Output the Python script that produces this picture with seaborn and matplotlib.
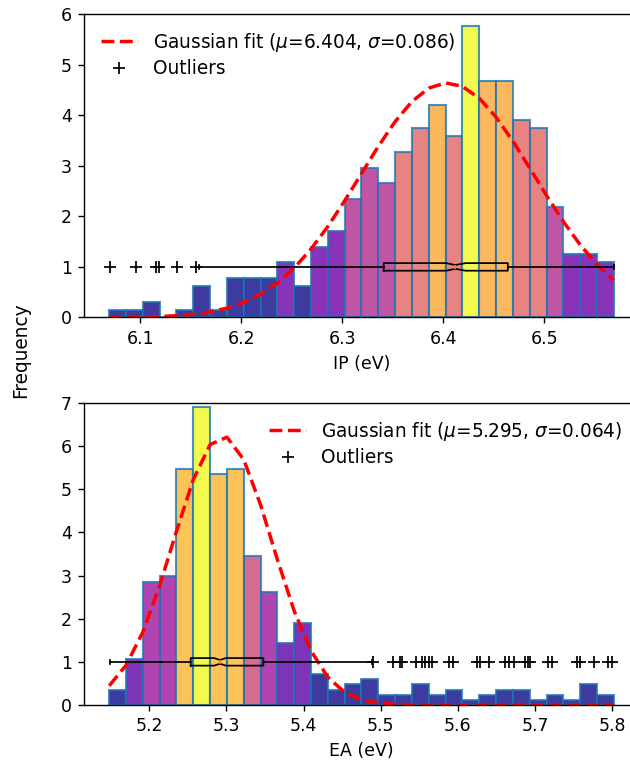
import numpy as np
import pandas as pd
import matplotlib
matplotlib.use('Agg')
import matplotlib.pyplot as plt
from matplotlib.lines import Line2D
import seaborn as sns

# IP histogram: 30 bins between the data min and max
ip_range = (6.069, 6.569)
ip_counts = [1, 1, 2, 0, 1, 4, 1, 5, 5, 5, 7, 4, 9, 11, 15,
             19, 17, 21, 24, 27, 23, 37, 30, 30, 25, 24, 14, 8, 8, 7]
ip_mu, ip_sigma = 6.404, 0.086
ip_box = dict(q1=6.341, med=6.412, q3=6.464, whislo=6.158, whishi=6.569,
              cilo=6.403, cihi=6.422)
ip_fliers = [6.0695, 6.0955, 6.1150, 6.1185, 6.1360, 6.1550]

# EA histogram
ea_range = (5.148, 5.802)
ea_counts = [3, 9, 24, 25, 46, 58, 45, 46, 29, 22, 12, 16, 6, 3, 4,
             5, 2, 2, 4, 2, 3, 1, 2, 3, 3, 1, 2, 1, 4, 2]
ea_mu, ea_sigma = 5.295, 0.064
ea_box = dict(q1=5.2536, med=5.2916, q3=5.3478, whislo=5.1487, whishi=5.4880,
              cilo=5.2841, cihi=5.2991)
ea_fliers = [5.4905, 5.5156, 5.5247, 5.5269, 5.5459, 5.5537, 5.5579, 5.5622,
             5.5666, 5.5881, 5.5933, 5.6249, 5.6292, 5.6399, 5.6615, 5.6658,
             5.6723, 5.6874, 5.6904, 5.6930, 5.7168, 5.7220, 5.7544, 5.7587,
             5.7759, 5.7946, 5.7997]


def draw_panel(ax, rng, counts, mu, sigma, box, fliers, xlabel, box_w, legend_loc):
    nbins = len(counts)
    edges = np.linspace(rng[0], rng[1], nbins + 1)
    df = pd.DataFrame({'x': 0.5 * (edges[:-1] + edges[1:]), 'n': counts})
    sns.histplot(data=df, x='x', weights='n', bins=nbins, binrange=rng,
                 stat='density', ax=ax, alpha=0.8, edgecolor='#1f77b4',
                 linewidth=1.2)
    # colour the bars by the integer part of their height
    heights = np.array([p.get_height() for p in ax.patches])
    levels = np.floor(heights)
    cmap = plt.cm.plasma
    for p, lv in zip(ax.patches, levels):
        p.set_facecolor(cmap(lv / levels.max()))
        p.set_alpha(0.8)

    pdf = np.exp(-0.5 * ((edges - mu) / sigma) ** 2) / (sigma * np.sqrt(2 * np.pi))
    ax.plot(edges, pdf, 'r--', linewidth=2)

    stats = dict(box, fliers=fliers)
    ax.bxp([stats], positions=[1], widths=box_w, orientation='horizontal',
           shownotches=True, manage_ticks=False,
           flierprops=dict(marker='+', markeredgecolor='k', markersize=7),
           boxprops=dict(color='k'), whiskerprops=dict(color='k'),
           capprops=dict(color='k'), medianprops=dict(color='#ff7f0e'))

    ax.set_xlabel(xlabel)
    ax.set_ylabel('')
    ax.margins(x=0.05)
    ax.set_ylim(0, np.ceil(heights.max()))
    handles = [Line2D([], [], color='r', ls='--', lw=2),
               Line2D([], [], color='k', ls='none', marker='+', markersize=7)]
    labels = [rf'Gaussian fit ($\mu$={mu:.3f}, $\sigma$={sigma:.3f})', 'Outliers']
    ax.legend(handles, labels, loc=legend_loc, frameon=False, fontsize=10.7,
              labelspacing=0.3)


dpi = 125
fig = plt.figure(figsize=(630 / dpi, 761 / dpi), dpi=dpi)
ax1 = fig.add_axes([0.1333, 0.5828, 0.881, 0.3988])
ax2 = fig.add_axes([0.1333, 0.0736, 0.881, 0.3968])

draw_panel(ax1, ip_range, ip_counts, ip_mu, ip_sigma, ip_box, ip_fliers,
           'IP (eV)', 0.15, 'upper left')
draw_panel(ax2, ea_range, ea_counts, ea_mu, ea_sigma, ea_box, ea_fliers,
           'EA (eV)', 0.175, 'upper right')

fig.text(0.032, 0.54, 'Frequency', rotation=90, va='center', ha='center',
         fontsize=10.7)

fig.savefig('out.png', dpi=dpi)
